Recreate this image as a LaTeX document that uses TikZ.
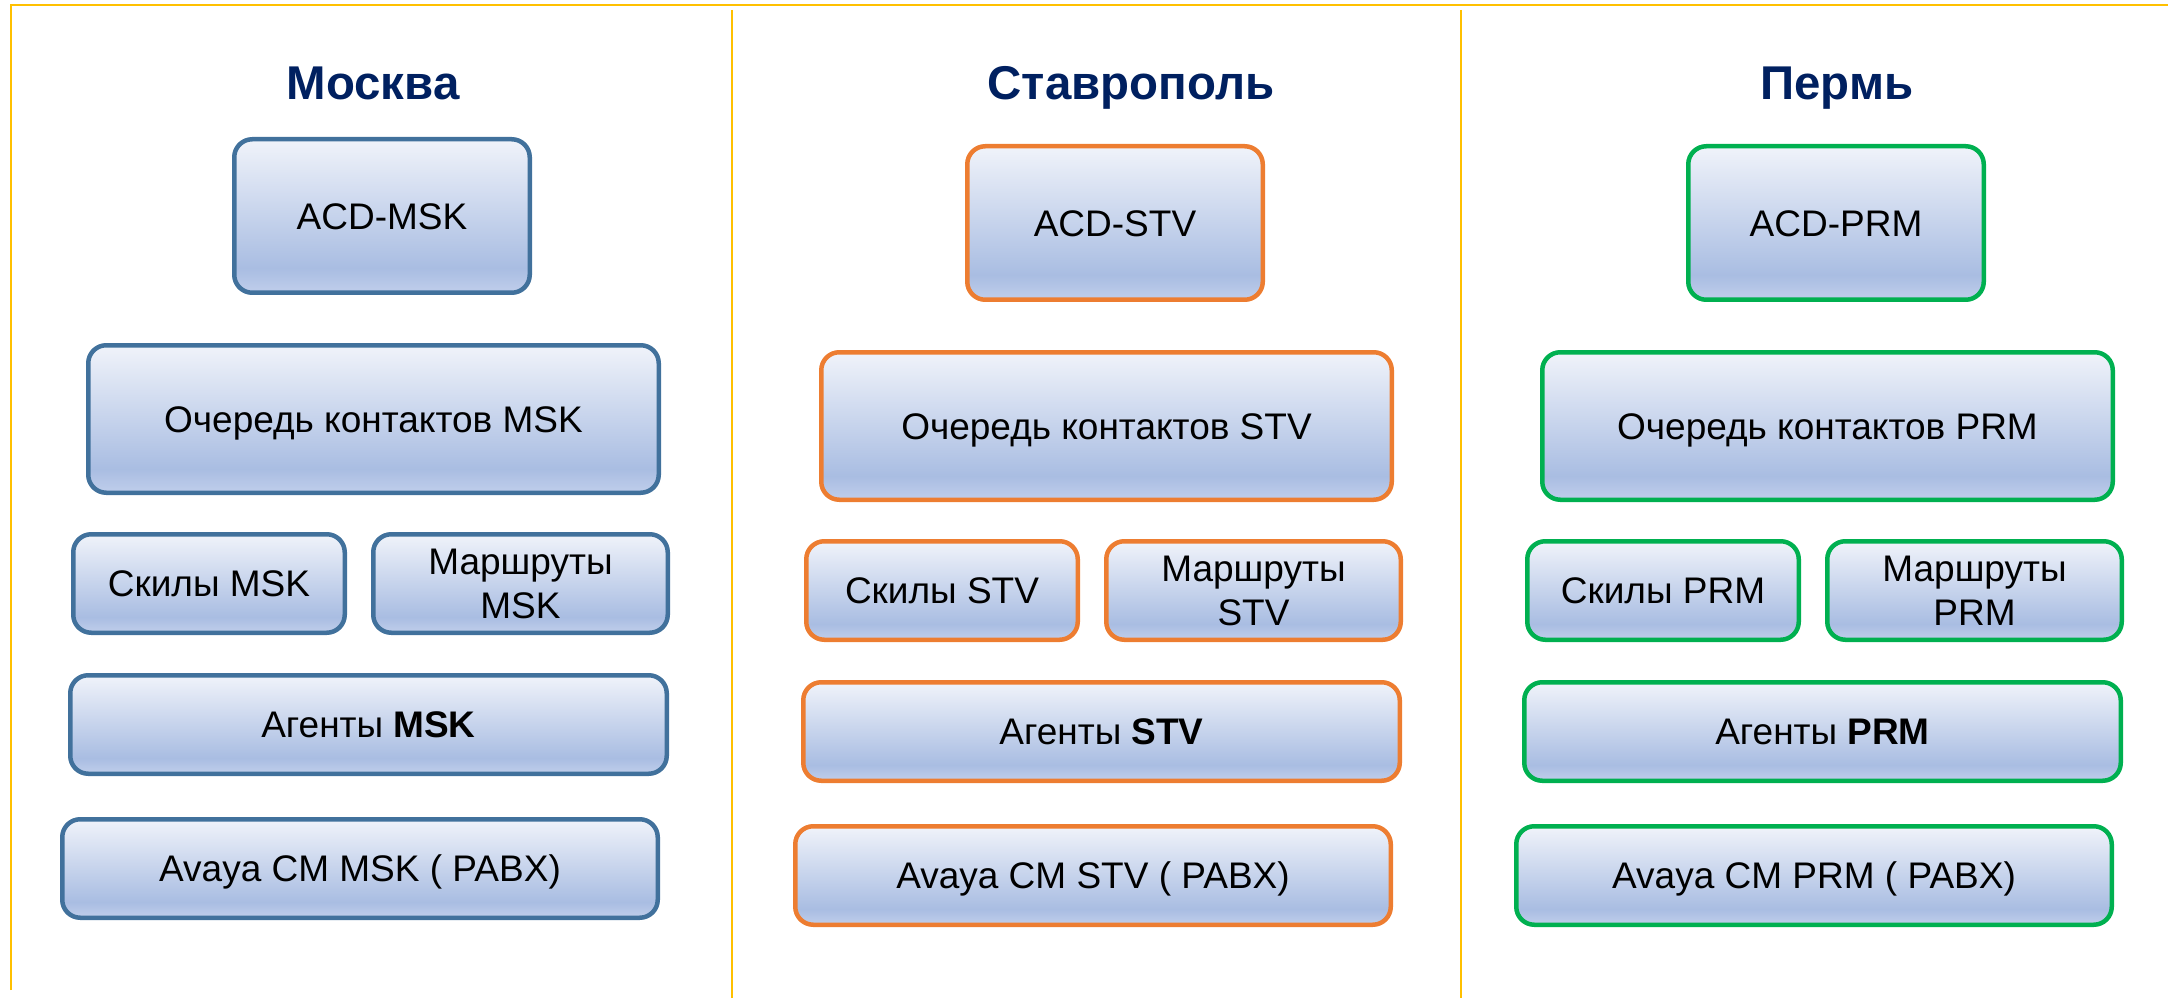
\documentclass[tikz,border=0pt]{standalone}
\usepackage{fontspec}
\setmainfont{Liberation Sans}
\definecolor{titleblue}{RGB}{0, 32, 96}
\definecolor{sepyellow}{RGB}{255, 192, 0}
\definecolor{mskblue}{RGB}{65, 113, 156}
\definecolor{stvorange}{RGB}{237, 125, 49}
\definecolor{prmgreen}{RGB}{0, 176, 80}
\definecolor{celltop}{RGB}{240, 243, 250}
\definecolor{cellmid}{RGB}{169, 189, 226}
\definecolor{cellbot}{RGB}{192, 206, 235}
\pgfdeclareverticalshading{cellfill}{100bp}{color(0bp)=(cellbot); color(25bp)=(cellbot); color(33bp)=(cellmid); color(75bp)=(celltop); color(100bp)=(celltop)}
\tikzset{
    cell/.style={draw, line width=2.25pt, rounded corners=9pt, shading=cellfill, inner sep=0pt, align=center,
        font=\fontsize{18.5}{22}\selectfont, text height=13.25pt, text depth=0pt},
    twoline/.style={text height=35.25pt},
    acdbox/.style={cell, minimum width=147.75pt, minimum height=76.75pt},
    queuebox/.style={cell, minimum width=285.25pt, minimum height=73.75pt},
    skillbox/.style={cell, minimum width=135.75pt, minimum height=49.25pt},
    routebox/.style={cell, twoline, minimum width=147.25pt, minimum height=49.25pt},
    agentbox/.style={cell, minimum width=298.25pt, minimum height=49.25pt},
    pabxbox/.style={cell, minimum width=297.75pt, minimum height=49.25pt},
    msk/.style={draw=mskblue},
    stv/.style={draw=stvorange},
    prm/.style={draw=prmgreen},
    city/.style={anchor=base, text=titleblue, font=\fontsize{23.7}{28}\selectfont\bfseries},
    sepline/.style={draw=sepyellow, line width=1pt}
}

\begin{document}
\begin{tikzpicture}[x=0.5pt, y=-0.5pt]
    \useasboundingbox (0,0) rectangle (2168,1000);

    % frame and column separators
    \draw[sepline, line width=1.25pt] (11,990) |- (2168,5);
    \draw[sepline] (732,10) -- (732,998);
    \draw[sepline] (1461,10) -- (1461,998);

    % Moscow
    \node[city] (cityMSK) at (373,100) {Москва};
    \node[acdbox, msk] (acdMSK) at (382,216) {ACD-MSK};
    \node[queuebox, msk] (queueMSK) at (373.5,419) {Очередь контактов MSK};
    \node[skillbox, msk] (skillMSK) at (209,583.5) {Скилы MSK};
    \node[routebox, msk] (routeMSK) at (520.5,583.5) {Маршруты\\MSK};
    \node[agentbox, msk] (agentMSK) at (368.5,724.5) {Агенты \textbf{MSK}};
    \node[pabxbox, msk] (pabxMSK) at (360,868.5) {Avaya CM MSK ( PABX)};

    % Stavropol
    \node[city] (citySTV) at (1131,100) {Ставрополь};
    \node[acdbox, stv] (acdSTV) at (1115,223) {ACD-STV};
    \node[queuebox, stv] (queueSTV) at (1106.5,426) {Очередь контактов STV};
    \node[skillbox, stv] (skillSTV) at (942,590.5) {Скилы STV};
    \node[routebox, stv] (routeSTV) at (1253.5,590.5) {Маршруты\\STV};
    \node[agentbox, stv] (agentSTV) at (1101.5,731.5) {Агенты \textbf{STV}};
    \node[pabxbox, stv] (pabxSTV) at (1093,875.5) {Avaya CM STV ( PABX)};

    % Perm
    \node[city] (cityPRM) at (1837,100) {Пермь};
    \node[acdbox, prm] (acdPRM) at (1836,223) {ACD-PRM};
    \node[queuebox, prm] (queuePRM) at (1827.5,426) {Очередь контактов PRM};
    \node[skillbox, prm] (skillPRM) at (1663,590.5) {Скилы PRM};
    \node[routebox, prm] (routePRM) at (1974.5,590.5) {Маршруты\\PRM};
    \node[agentbox, prm] (agentPRM) at (1822.5,731.5) {Агенты \textbf{PRM}};
    \node[pabxbox, prm] (pabxPRM) at (1814,875.5) {Avaya CM PRM ( PABX)};
\end{tikzpicture}
\end{document}
